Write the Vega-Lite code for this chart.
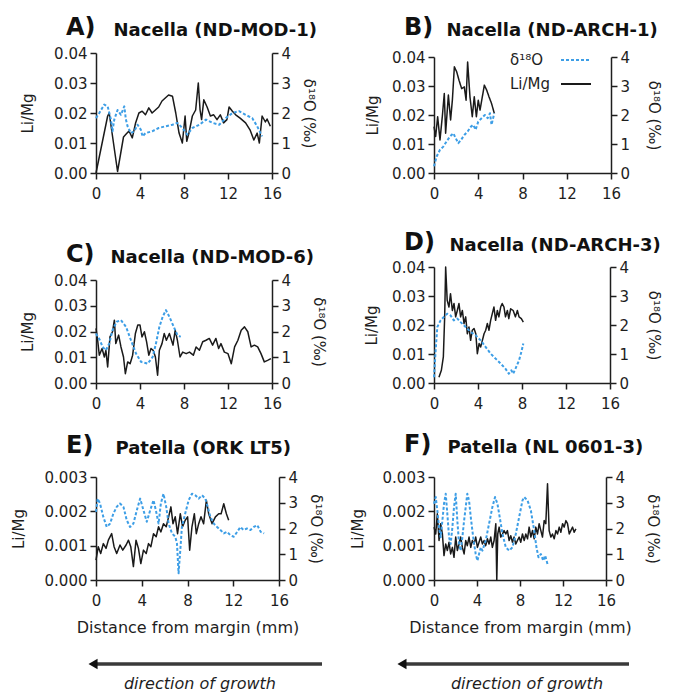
{
 "$schema": "https://vega.github.io/schema/vega-lite/v6.json",
 "padding": {"left": 11, "top": 16, "right": 5, "bottom": 0},
 "background": "white",
 "datasets": {
  "A_li": [{"x":0,"v":0},{"x":1.06,"v":0.019},{"x":1.2,"v":0.02},{"x":1.96,"v":0.0005},{"x":2.5,"v":0.012},{"x":2.7,"v":0.0128},{"x":3.0,"v":0.014},{"x":3.3,"v":0.0117},{"x":3.6,"v":0.0167},{"x":3.9,"v":0.02},{"x":4.2,"v":0.0206},{"x":4.5,"v":0.0194},{"x":4.8,"v":0.0217},{"x":5.1,"v":0.02},{"x":5.4,"v":0.021},{"x":5.7,"v":0.022},{"x":6.0,"v":0.024},{"x":6.3,"v":0.025},{"x":6.6,"v":0.026},{"x":6.95,"v":0.0256},{"x":7.25,"v":0.02},{"x":7.55,"v":0.0133},{"x":7.85,"v":0.01},{"x":8.1,"v":0.019},{"x":8.25,"v":0.0106},{"x":8.45,"v":0.0133},{"x":8.76,"v":0.019},{"x":9.06,"v":0.021},{"x":9.3,"v":0.03},{"x":9.46,"v":0.021},{"x":9.6,"v":0.0178},{"x":9.8,"v":0.0244},{"x":10.1,"v":0.022},{"x":10.4,"v":0.019},{"x":10.7,"v":0.0194},{"x":11.0,"v":0.0178},{"x":11.3,"v":0.0194},{"x":11.6,"v":0.0167},{"x":11.9,"v":0.0178},{"x":12.1,"v":0.022},{"x":12.4,"v":0.0206},{"x":12.7,"v":0.0194},{"x":13.1,"v":0.0183},{"x":13.6,"v":0.0167},{"x":14.0,"v":0.0144},{"x":14.35,"v":0.011},{"x":14.65,"v":0.0133},{"x":14.85,"v":0.01},{"x":15.1,"v":0.019},{"x":15.4,"v":0.017},{"x":15.55,"v":0.018},{"x":15.85,"v":0.0156}],
  "A_d": [{"x":0,"v":1.83},{"x":0.3,"v":2.0},{"x":0.75,"v":2.28},{"x":1.06,"v":2.22},{"x":1.36,"v":1.78},{"x":1.5,"v":1.39},{"x":1.66,"v":1.78},{"x":1.96,"v":2.1},{"x":2.27,"v":1.94},{"x":2.57,"v":2.22},{"x":2.72,"v":1.78},{"x":2.87,"v":1.56},{"x":3.17,"v":1.33},{"x":3.47,"v":1.39},{"x":3.78,"v":1.61},{"x":4.08,"v":1.44},{"x":4.23,"v":1.22},{"x":4.5,"v":1.33},{"x":5.1,"v":1.39},{"x":5.7,"v":1.5},{"x":6.35,"v":1.56},{"x":6.95,"v":1.61},{"x":7.4,"v":1.67},{"x":7.85,"v":1.5},{"x":8.3,"v":1.28},{"x":8.76,"v":1.5},{"x":9.4,"v":1.61},{"x":10.0,"v":1.78},{"x":10.6,"v":1.67},{"x":11.2,"v":1.61},{"x":11.8,"v":1.83},{"x":12.4,"v":2.0},{"x":13.0,"v":2.06},{"x":13.6,"v":1.94},{"x":14.2,"v":1.83},{"x":14.65,"v":1.56},{"x":15.1,"v":1.22}],
  "B_li": [{"x":0,"v":0.016,"s":"Li/Mg"},{"x":0.15,"v":0.0126,"s":"Li/Mg"},{"x":0.33,"v":0.0194,"s":"Li/Mg"},{"x":0.54,"v":0.0114,"s":"Li/Mg"},{"x":0.75,"v":0.0194,"s":"Li/Mg"},{"x":0.93,"v":0.0274,"s":"Li/Mg"},{"x":1.05,"v":0.0137,"s":"Li/Mg"},{"x":1.3,"v":0.0269,"s":"Li/Mg"},{"x":1.5,"v":0.0183,"s":"Li/Mg"},{"x":1.66,"v":0.0251,"s":"Li/Mg"},{"x":1.84,"v":0.0366,"s":"Li/Mg"},{"x":2.05,"v":0.0349,"s":"Li/Mg"},{"x":2.26,"v":0.032,"s":"Li/Mg"},{"x":2.5,"v":0.0291,"s":"Li/Mg"},{"x":2.74,"v":0.0297,"s":"Li/Mg"},{"x":2.9,"v":0.0251,"s":"Li/Mg"},{"x":3.04,"v":0.0383,"s":"Li/Mg"},{"x":3.25,"v":0.0263,"s":"Li/Mg"},{"x":3.46,"v":0.0194,"s":"Li/Mg"},{"x":3.64,"v":0.0263,"s":"Li/Mg"},{"x":3.83,"v":0.0194,"s":"Li/Mg"},{"x":4.0,"v":0.0251,"s":"Li/Mg"},{"x":4.16,"v":0.0217,"s":"Li/Mg"},{"x":4.37,"v":0.0263,"s":"Li/Mg"},{"x":4.55,"v":0.0303,"s":"Li/Mg"},{"x":4.76,"v":0.0286,"s":"Li/Mg"},{"x":4.97,"v":0.0263,"s":"Li/Mg"},{"x":5.2,"v":0.024,"s":"Li/Mg"},{"x":5.45,"v":0.0206,"s":"Li/Mg"}],
  "B_d": [{"x":0,"v":0.23,"s":"δ¹⁸O"},{"x":0.24,"v":0.57,"s":"δ¹⁸O"},{"x":0.54,"v":0.8,"s":"δ¹⁸O"},{"x":0.84,"v":0.91,"s":"δ¹⁸O"},{"x":1.14,"v":1.09,"s":"δ¹⁸O"},{"x":1.45,"v":1.26,"s":"δ¹⁸O"},{"x":1.75,"v":1.37,"s":"δ¹⁸O"},{"x":1.96,"v":1.2,"s":"δ¹⁸O"},{"x":2.2,"v":1.03,"s":"δ¹⁸O"},{"x":2.44,"v":1.14,"s":"δ¹⁸O"},{"x":2.74,"v":1.31,"s":"δ¹⁸O"},{"x":3.04,"v":1.43,"s":"δ¹⁸O"},{"x":3.34,"v":1.6,"s":"δ¹⁸O"},{"x":3.55,"v":1.66,"s":"δ¹⁸O"},{"x":3.76,"v":1.49,"s":"δ¹⁸O"},{"x":4.0,"v":1.77,"s":"δ¹⁸O"},{"x":4.3,"v":1.89,"s":"δ¹⁸O"},{"x":4.6,"v":2.0,"s":"δ¹⁸O"},{"x":4.85,"v":1.89,"s":"δ¹⁸O"},{"x":5.06,"v":2.06,"s":"δ¹⁸O"},{"x":5.2,"v":1.66,"s":"δ¹⁸O"},{"x":5.45,"v":2.06,"s":"δ¹⁸O"}],
  "C_li": [{"x":0,"v":0.0212},{"x":0.15,"v":0.0166},{"x":0.3,"v":0.0108},{"x":0.55,"v":0.0134},{"x":0.76,"v":0.0101},{"x":0.9,"v":0.0127},{"x":1.06,"v":0.0062},{"x":1.27,"v":0.0179},{"x":1.5,"v":0.0199},{"x":1.67,"v":0.0244},{"x":1.8,"v":0.0153},{"x":2.06,"v":0.0186},{"x":2.27,"v":0.014},{"x":2.5,"v":0.0101},{"x":2.67,"v":0.0036},{"x":2.88,"v":0.0082},{"x":3.1,"v":0.0075},{"x":3.33,"v":0.0108},{"x":3.58,"v":0.0192},{"x":3.8,"v":0.0225},{"x":4.0,"v":0.0225},{"x":4.18,"v":0.0179},{"x":4.4,"v":0.0199},{"x":4.6,"v":0.016},{"x":4.8,"v":0.0108},{"x":5.0,"v":0.0134},{"x":5.2,"v":0.0127},{"x":5.4,"v":0.0101},{"x":5.6,"v":0.003},{"x":5.76,"v":0.0127},{"x":6.0,"v":0.0153},{"x":6.2,"v":0.0192},{"x":6.4,"v":0.0166},{"x":6.67,"v":0.0192},{"x":7.0,"v":0.0147},{"x":7.2,"v":0.0205},{"x":7.4,"v":0.0166},{"x":7.64,"v":0.0101},{"x":7.88,"v":0.012},{"x":8.2,"v":0.0114},{"x":8.5,"v":0.012},{"x":8.85,"v":0.0108},{"x":9.1,"v":0.014},{"x":9.4,"v":0.0127},{"x":9.7,"v":0.016},{"x":10.0,"v":0.0166},{"x":10.3,"v":0.0173},{"x":10.6,"v":0.0147},{"x":10.9,"v":0.0173},{"x":11.15,"v":0.0134},{"x":11.36,"v":0.0153},{"x":11.67,"v":0.012},{"x":12.0,"v":0.0114},{"x":12.3,"v":0.0075},{"x":12.6,"v":0.014},{"x":12.9,"v":0.0166},{"x":13.2,"v":0.0205},{"x":13.5,"v":0.0218},{"x":13.8,"v":0.0199},{"x":14.1,"v":0.014},{"x":14.4,"v":0.0147},{"x":14.7,"v":0.014},{"x":15.0,"v":0.0114},{"x":15.3,"v":0.0082},{"x":15.6,"v":0.0088},{"x":15.9,"v":0.0095}],
  "C_d": [{"x":0,"v":1.92},{"x":0.36,"v":1.66},{"x":0.6,"v":1.4},{"x":0.9,"v":1.27},{"x":1.2,"v":1.53},{"x":1.5,"v":2.05},{"x":1.88,"v":2.38},{"x":2.27,"v":2.44},{"x":2.73,"v":2.18},{"x":3.18,"v":1.66},{"x":3.64,"v":1.14},{"x":4.1,"v":0.82},{"x":4.7,"v":0.75},{"x":5.15,"v":1.01},{"x":5.45,"v":1.53},{"x":5.76,"v":2.18},{"x":6.06,"v":2.57},{"x":6.36,"v":2.83},{"x":6.67,"v":2.57},{"x":7.0,"v":2.25},{"x":7.4,"v":1.86},{"x":7.7,"v":1.79}],
  "D_li": [{"x":0.45,"v":0.002},{"x":0.67,"v":0.0044},{"x":0.85,"v":0.009},{"x":0.97,"v":0.0228},{"x":1.06,"v":0.04},{"x":1.2,"v":0.0285},{"x":1.36,"v":0.0262},{"x":1.5,"v":0.0308},{"x":1.67,"v":0.025},{"x":1.82,"v":0.0274},{"x":1.97,"v":0.0228},{"x":2.12,"v":0.025},{"x":2.27,"v":0.0274},{"x":2.42,"v":0.0228},{"x":2.58,"v":0.025},{"x":2.73,"v":0.0205},{"x":2.88,"v":0.0228},{"x":3.03,"v":0.017},{"x":3.18,"v":0.0193},{"x":3.33,"v":0.0147},{"x":3.48,"v":0.0182},{"x":3.64,"v":0.0188},{"x":3.8,"v":0.017},{"x":3.94,"v":0.0101},{"x":4.1,"v":0.0136},{"x":4.24,"v":0.0124},{"x":4.4,"v":0.0147},{"x":4.55,"v":0.017},{"x":4.7,"v":0.0182},{"x":4.85,"v":0.0205},{"x":5.0,"v":0.0182},{"x":5.15,"v":0.0216},{"x":5.3,"v":0.0239},{"x":5.45,"v":0.0262},{"x":5.6,"v":0.0216},{"x":5.76,"v":0.025},{"x":5.9,"v":0.0228},{"x":6.06,"v":0.0262},{"x":6.2,"v":0.0274},{"x":6.36,"v":0.0262},{"x":6.5,"v":0.0228},{"x":6.67,"v":0.025},{"x":6.8,"v":0.0222},{"x":6.97,"v":0.0256},{"x":7.2,"v":0.025},{"x":7.4,"v":0.0228},{"x":7.58,"v":0.025},{"x":7.73,"v":0.0228},{"x":7.94,"v":0.0222},{"x":8.12,"v":0.021}],
  "D_d": [{"x":0,"v":0.2},{"x":0.15,"v":1.13},{"x":0.3,"v":1.93},{"x":0.6,"v":2.16},{"x":0.9,"v":2.28},{"x":1.2,"v":2.39},{"x":1.5,"v":2.33},{"x":1.8,"v":2.16},{"x":2.12,"v":2.22},{"x":2.42,"v":2.1},{"x":2.88,"v":1.93},{"x":3.33,"v":1.76},{"x":3.8,"v":1.64},{"x":4.24,"v":1.47},{"x":4.7,"v":1.24},{"x":5.15,"v":1.01},{"x":5.6,"v":0.84},{"x":6.06,"v":0.67},{"x":6.5,"v":0.49},{"x":6.8,"v":0.32},{"x":7.03,"v":0.44},{"x":7.2,"v":0.32},{"x":7.4,"v":0.49},{"x":7.73,"v":0.78},{"x":7.94,"v":1.07},{"x":8.12,"v":1.36}],
  "E_li": [{"x":0,"v":0.00058},{"x":0.2,"v":0.00097},{"x":0.41,"v":0.00077},{"x":0.64,"v":0.00106},{"x":0.88,"v":0.00092},{"x":1.08,"v":0.00116},{"x":1.37,"v":0.00135},{"x":1.58,"v":0.00097},{"x":1.81,"v":0.00077},{"x":2.1,"v":0.00102},{"x":2.34,"v":0.00087},{"x":2.63,"v":0.00102},{"x":2.84,"v":0.00116},{"x":3.04,"v":0.00097},{"x":3.27,"v":0.00039},{"x":3.5,"v":0.00116},{"x":3.71,"v":0.00092},{"x":3.92,"v":0.00048},{"x":4.15,"v":0.00087},{"x":4.39,"v":0.00077},{"x":4.59,"v":0.00106},{"x":4.8,"v":0.00097},{"x":5.03,"v":0.00135},{"x":5.26,"v":0.00126},{"x":5.47,"v":0.00155},{"x":5.67,"v":0.0014},{"x":5.9,"v":0.00164},{"x":6.14,"v":0.00155},{"x":6.35,"v":0.00184},{"x":6.55,"v":0.00213},{"x":6.73,"v":0.00164},{"x":6.93,"v":0.00184},{"x":7.13,"v":0.00135},{"x":7.37,"v":0.00193},{"x":7.57,"v":0.00155},{"x":7.8,"v":0.00174},{"x":8.01,"v":0.00184},{"x":8.19,"v":0.00087},{"x":8.39,"v":0.00155},{"x":8.6,"v":0.00193},{"x":8.77,"v":0.00135},{"x":8.98,"v":0.00164},{"x":9.18,"v":0.00184},{"x":9.41,"v":0.00164},{"x":9.65,"v":0.00232},{"x":9.85,"v":0.00193},{"x":10.15,"v":0.00164},{"x":10.44,"v":0.00184},{"x":10.73,"v":0.00193},{"x":10.94,"v":0.00193},{"x":11.17,"v":0.00222},{"x":11.4,"v":0.00193},{"x":11.6,"v":0.00174}],
  "E_d": [{"x":0,"v":2.65},{"x":0.15,"v":3.16},{"x":0.35,"v":2.97},{"x":0.64,"v":2.45},{"x":0.94,"v":2.06},{"x":1.23,"v":2.19},{"x":1.52,"v":2.58},{"x":1.81,"v":2.84},{"x":2.1,"v":2.97},{"x":2.4,"v":2.84},{"x":2.69,"v":2.32},{"x":2.98,"v":2.06},{"x":3.27,"v":2.19},{"x":3.57,"v":2.71},{"x":3.86,"v":3.16},{"x":4.15,"v":2.71},{"x":4.44,"v":2.26},{"x":4.74,"v":2.71},{"x":5.03,"v":3.1},{"x":5.26,"v":2.65},{"x":5.47,"v":2.19},{"x":5.67,"v":2.97},{"x":5.9,"v":3.35},{"x":6.14,"v":2.84},{"x":6.35,"v":2.19},{"x":6.64,"v":1.81},{"x":6.93,"v":1.68},{"x":7.08,"v":1.42},{"x":7.22,"v":0.26},{"x":7.37,"v":1.16},{"x":7.51,"v":2.06},{"x":7.8,"v":2.58},{"x":8.1,"v":3.1},{"x":8.39,"v":3.35},{"x":8.68,"v":3.29},{"x":8.98,"v":3.16},{"x":9.27,"v":3.29},{"x":9.56,"v":3.16},{"x":9.77,"v":2.84},{"x":10.0,"v":2.45},{"x":10.3,"v":2.19},{"x":10.59,"v":2.06},{"x":10.88,"v":1.94},{"x":11.17,"v":1.81},{"x":11.46,"v":1.87},{"x":11.75,"v":1.74},{"x":12.05,"v":1.68},{"x":12.34,"v":1.87},{"x":12.63,"v":2.06},{"x":12.9,"v":1.94},{"x":13.2,"v":2.0},{"x":13.5,"v":1.94},{"x":13.8,"v":2.06},{"x":14.1,"v":2.13},{"x":14.4,"v":1.87},{"x":14.7,"v":1.81}],
  "F_li": [{"x":0,"v":0.00154},{"x":0.16,"v":0.00134},{"x":0.31,"v":0.00193},{"x":0.47,"v":0.00115},{"x":0.62,"v":0.00164},{"x":0.78,"v":0.00134},{"x":0.93,"v":0.00071},{"x":1.09,"v":0.00105},{"x":1.24,"v":0.00086},{"x":1.4,"v":0.0011},{"x":1.55,"v":0.00076},{"x":1.71,"v":0.00095},{"x":1.86,"v":0.00066},{"x":2.02,"v":0.00125},{"x":2.17,"v":0.00086},{"x":2.33,"v":0.00105},{"x":2.48,"v":0.00125},{"x":2.64,"v":0.00095},{"x":2.8,"v":0.00076},{"x":2.95,"v":0.00115},{"x":3.1,"v":0.001},{"x":3.26,"v":0.00125},{"x":3.42,"v":0.00095},{"x":3.57,"v":0.00115},{"x":3.73,"v":0.00105},{"x":3.88,"v":0.00125},{"x":4.04,"v":0.00095},{"x":4.19,"v":0.0011},{"x":4.35,"v":0.00125},{"x":4.5,"v":0.00105},{"x":4.66,"v":0.00115},{"x":4.81,"v":0.001},{"x":4.97,"v":0.0012},{"x":5.12,"v":0.00105},{"x":5.28,"v":0.00125},{"x":5.43,"v":0.00095},{"x":5.59,"v":0.00115},{"x":5.75,"v":0.00164},{"x":5.84,"v":0.0},{"x":5.93,"v":0.00134},{"x":6.06,"v":0.00154},{"x":6.21,"v":0.00125},{"x":6.37,"v":0.00134},{"x":6.52,"v":0.00144},{"x":6.68,"v":0.00134},{"x":6.83,"v":0.00144},{"x":6.99,"v":0.00115},{"x":7.14,"v":0.00129},{"x":7.3,"v":0.0011},{"x":7.45,"v":0.00125},{"x":7.61,"v":0.00105},{"x":7.76,"v":0.00115},{"x":7.92,"v":0.00125},{"x":8.07,"v":0.0011},{"x":8.23,"v":0.00134},{"x":8.39,"v":0.00115},{"x":8.54,"v":0.00134},{"x":8.7,"v":0.0012},{"x":8.85,"v":0.00154},{"x":9.01,"v":0.00125},{"x":9.16,"v":0.00144},{"x":9.32,"v":0.0012},{"x":9.47,"v":0.00154},{"x":9.63,"v":0.00134},{"x":9.78,"v":0.00164},{"x":9.94,"v":0.00144},{"x":10.09,"v":0.00125},{"x":10.25,"v":0.00173},{"x":10.4,"v":0.00164},{"x":10.56,"v":0.0028},{"x":10.71,"v":0.00144},{"x":10.87,"v":0.00125},{"x":11.02,"v":0.00134},{"x":11.18,"v":0.0012},{"x":11.34,"v":0.00144},{"x":11.49,"v":0.00134},{"x":11.65,"v":0.00154},{"x":11.8,"v":0.00139},{"x":11.96,"v":0.00164},{"x":12.11,"v":0.00154},{"x":12.27,"v":0.00173},{"x":12.42,"v":0.00164},{"x":12.58,"v":0.00134},{"x":12.73,"v":0.00144},{"x":12.89,"v":0.00154},{"x":13.04,"v":0.00139},{"x":13.2,"v":0.00149}],
  "F_d": [{"x":0,"v":2.96},{"x":0.16,"v":3.22},{"x":0.31,"v":2.7},{"x":0.47,"v":2.05},{"x":0.62,"v":1.66},{"x":0.78,"v":2.31},{"x":0.93,"v":2.96},{"x":1.09,"v":3.35},{"x":1.24,"v":2.57},{"x":1.4,"v":1.66},{"x":1.55,"v":1.4},{"x":1.71,"v":2.05},{"x":1.86,"v":2.83},{"x":2.02,"v":3.35},{"x":2.17,"v":2.31},{"x":2.33,"v":1.4},{"x":2.48,"v":1.14},{"x":2.64,"v":1.66},{"x":2.8,"v":2.31},{"x":2.95,"v":2.83},{"x":3.1,"v":3.35},{"x":3.26,"v":3.09},{"x":3.42,"v":2.44},{"x":3.57,"v":1.92},{"x":3.73,"v":1.4},{"x":3.88,"v":1.01},{"x":4.04,"v":0.75},{"x":4.19,"v":1.01},{"x":4.35,"v":1.27},{"x":4.5,"v":1.14},{"x":4.81,"v":1.53},{"x":5.12,"v":2.18},{"x":5.43,"v":2.83},{"x":5.68,"v":3.22},{"x":5.9,"v":2.96},{"x":6.06,"v":2.57},{"x":6.37,"v":1.79},{"x":6.68,"v":1.27},{"x":6.99,"v":1.14},{"x":7.3,"v":1.27},{"x":7.61,"v":1.79},{"x":7.92,"v":2.44},{"x":8.23,"v":3.09},{"x":8.39,"v":3.22},{"x":8.7,"v":3.09},{"x":9.01,"v":2.7},{"x":9.32,"v":1.92},{"x":9.53,"v":1.27},{"x":9.72,"v":0.88},{"x":9.94,"v":1.01},{"x":10.16,"v":0.75},{"x":10.34,"v":0.95},{"x":10.56,"v":0.62}],
  "E_arrow": [{"x":-0.26,"x2":19.76,"y":-0.815}],
  "E_text": [{"x":9.09,"y":-1.01,"label":"direction of growth"}],
  "F_arrow": [{"x":-2.98,"x2":18.14,"y":-0.815}],
  "F_text": [{"x":8.65,"y":-1.01,"label":"direction of growth"}]
 },
 "concat": [
  {
   "width": 176, "height": 120,
   "title": {"text": "A)", "offset": -19},
   "layer": [
    {"data": {"name": "A_li"}, "mark": {"type": "line", "color": "#1a1a1a", "strokeWidth": 1.5},
     "encoding": {
      "x": {"field": "x", "type": "quantitative", "scale": {"domain": [0, 16], "nice": false, "zero": false}, "axis": {"values": [0, 4, 8, 12, 16], "title": null}},
      "y": {"field": "v", "type": "quantitative", "scale": {"domain": [0, 0.04], "nice": false}, "axis": {"values": [0, 0.01, 0.02, 0.03, 0.04], "format": ".2f", "title": "Li/Mg", "titlePadding": 18}}}},
    {"data": {"name": "A_d"}, "mark": {"type": "line", "color": "#3d9ee6", "strokeWidth": 2, "strokeDash": [3, 2]},
     "encoding": {
      "x": {"field": "x", "type": "quantitative", "axis": {"orient": "top", "domain": false, "ticks": false, "labels": false, "title": "Nacella (ND-MOD-1)", "titleX": 17, "titleY": -18}},
      "y": {"field": "v", "type": "quantitative", "scale": {"domain": [0, 4], "nice": false}, "axis": {"orient": "right", "values": [0, 1, 2, 3, 4], "title": "δ¹⁸O (‰)", "titlePadding": 10}}}}
   ],
   "resolve": {"scale": {"y": "independent"}, "axis": {"x": "independent"}}
  },
  {
   "width": 177, "height": 120,
   "title": {"text": "B)", "offset": -19},
   "layer": [
    {"data": {"name": "B_li"}, "mark": {"type": "line", "strokeWidth": 1.5},
     "encoding": {
      "x": {"field": "x", "type": "quantitative", "scale": {"domain": [0, 16], "nice": false, "zero": false}, "axis": {"values": [0, 4, 8, 12, 16], "title": null}},
      "y": {"field": "v", "type": "quantitative", "scale": {"domain": [0, 0.04], "nice": false, "range": [120, 4]}, "axis": {"values": [0, 0.01, 0.02, 0.03, 0.04], "format": ".2f", "title": "Li/Mg", "titlePadding": 11}},
      "color": {"field": "s", "type": "nominal", "scale": {"domain": ["δ¹⁸O", "Li/Mg"], "range": ["#3d9ee6", "#1a1a1a"]},
                "legend": {"title": null, "orient": "none", "legendX": 126, "legendY": -9, "padding": 0, "symbolType": "stroke", "symbolSize": 900, "symbolStrokeWidth": 2, "symbolOffset": 0, "labelAlign": "left", "labelOffset": -82, "labelFont": "DejaVu Sans", "labelFontSize": 15, "labelColor": "#1e1e1e", "rowPadding": -7}},
      "strokeDash": {"field": "s", "type": "nominal", "scale": {"domain": ["δ¹⁸O", "Li/Mg"], "range": [[3, 2], [1, 0]]},
                "legend": {"title": null, "orient": "none", "legendX": 126, "legendY": -9, "padding": 0, "symbolType": "stroke", "symbolSize": 900, "symbolStrokeWidth": 2, "symbolOffset": 0, "labelAlign": "left", "labelOffset": -82, "labelFont": "DejaVu Sans", "labelFontSize": 15, "labelColor": "#1e1e1e", "rowPadding": -7}}}},
    {"data": {"name": "B_d"}, "mark": {"type": "line", "strokeWidth": 2},
     "encoding": {
      "x": {"field": "x", "type": "quantitative", "axis": {"orient": "top", "domain": false, "ticks": false, "labels": false, "title": "Nacella (ND-ARCH-1)", "titleX": 12, "titleY": -18}},
      "y": {"field": "v", "type": "quantitative", "scale": {"domain": [0, 4], "nice": false, "range": [120, 4]}, "axis": {"orient": "right", "values": [0, 1, 2, 3, 4], "title": "δ¹⁸O (‰)", "titlePadding": 16}},
      "color": {"field": "s", "type": "nominal"},
      "strokeDash": {"field": "s", "type": "nominal"}}}
   ],
   "resolve": {"scale": {"y": "independent"}, "axis": {"x": "independent"}}
  },
  {
   "width": 176, "height": 116,
   "title": {"text": "C)", "offset": -19},
   "layer": [
    {"data": {"name": "C_li"}, "mark": {"type": "line", "color": "#1a1a1a", "strokeWidth": 1.5},
     "encoding": {
      "x": {"field": "x", "type": "quantitative", "scale": {"domain": [0, 16], "nice": false, "zero": false}, "axis": {"values": [0, 4, 8, 12, 16], "title": null}},
      "y": {"field": "v", "type": "quantitative", "scale": {"domain": [0, 0.04], "nice": false, "range": [116, 13]}, "axis": {"values": [0, 0.01, 0.02, 0.03, 0.04], "format": ".2f", "title": "Li/Mg", "titlePadding": 18}}}},
    {"data": {"name": "C_d"}, "mark": {"type": "line", "color": "#3d9ee6", "strokeWidth": 2, "strokeDash": [3, 2]},
     "encoding": {
      "x": {"field": "x", "type": "quantitative", "axis": {"orient": "top", "domain": false, "ticks": false, "labels": false, "title": "Nacella (ND-MOD-6)", "titleX": 14, "titleY": -5}},
      "y": {"field": "v", "type": "quantitative", "scale": {"domain": [0, 4], "nice": false, "range": [116, 13]}, "axis": {"orient": "right", "values": [0, 1, 2, 3, 4], "title": "δ¹⁸O (‰)", "titlePadding": 20}}}}
   ],
   "resolve": {"scale": {"y": "independent"}, "axis": {"x": "independent"}}
  },
  {
   "width": 176, "height": 116,
   "title": {"text": "D)", "offset": -19},
   "layer": [
    {"data": {"name": "D_li"}, "mark": {"type": "line", "color": "#1a1a1a", "strokeWidth": 1.5},
     "encoding": {
      "x": {"field": "x", "type": "quantitative", "scale": {"domain": [0, 16], "nice": false, "zero": false}, "axis": {"values": [0, 4, 8, 12, 16], "title": null}},
      "y": {"field": "v", "type": "quantitative", "scale": {"domain": [0, 0.04], "nice": false}, "axis": {"values": [0, 0.01, 0.02, 0.03, 0.04], "format": ".2f", "title": "Li/Mg", "titlePadding": 12}}}},
    {"data": {"name": "D_d"}, "mark": {"type": "line", "color": "#3d9ee6", "strokeWidth": 2, "strokeDash": [3, 2]},
     "encoding": {
      "x": {"field": "x", "type": "quantitative", "axis": {"orient": "top", "domain": false, "ticks": false, "labels": false, "title": "Nacella (ND-ARCH-3)", "titleX": 15, "titleY": -17}},
      "y": {"field": "v", "type": "quantitative", "scale": {"domain": [0, 4], "nice": false}, "axis": {"orient": "right", "values": [0, 1, 2, 3, 4], "title": "δ¹⁸O (‰)", "titlePadding": 17}}}}
   ],
   "resolve": {"scale": {"y": "independent"}, "axis": {"x": "independent"}}
  },
  {
   "width": 183, "height": 103,
   "title": {"text": "E)", "offset": -19},
   "layer": [
    {"data": {"name": "E_li"}, "mark": {"type": "line", "color": "#1a1a1a", "strokeWidth": 1.5},
     "encoding": {
      "x": {"field": "x", "type": "quantitative", "scale": {"domain": [0, 16], "nice": false, "zero": false}, "axis": {"values": [0, 4, 8, 12, 16], "title": "Distance from margin (mm)"}},
      "y": {"field": "v", "type": "quantitative", "scale": {"domain": [0, 0.003], "nice": false}, "axis": {"values": [0, 0.001, 0.002, 0.003], "format": ".3f", "title": "Li/Mg", "titlePadding": 18}}}},
    {"data": {"name": "E_d"}, "mark": {"type": "line", "color": "#3d9ee6", "strokeWidth": 2, "strokeDash": [3, 2]},
     "encoding": {
      "x": {"field": "x", "type": "quantitative", "axis": {"orient": "top", "domain": false, "ticks": false, "labels": false, "title": "Patella (ORK LT5)", "titleX": 19, "titleY": -24}},
      "y": {"field": "v", "type": "quantitative", "scale": {"domain": [0, 4], "nice": false}, "axis": {"orient": "right", "values": [0, 1, 2, 3, 4], "title": "δ¹⁸O (‰)", "titlePadding": 10}}}},
    {"layer": [
      {"data": {"name": "E_arrow"}, "mark": {"type": "rule", "color": "#3a3a3a", "strokeWidth": 3.5},
       "encoding": {"x": {"field": "x", "type": "quantitative", "axis": null}, "x2": {"field": "x2"}, "y": {"field": "y", "type": "quantitative", "scale": {"domain": [0, 1], "nice": false, "zero": false}, "axis": null}}},
      {"data": {"name": "E_arrow"}, "mark": {"type": "point", "shape": "triangle-left", "filled": true, "color": "#111", "size": 110, "opacity": 1},
       "encoding": {"x": {"field": "x", "type": "quantitative", "axis": null}, "y": {"field": "y", "type": "quantitative", "axis": null}}},
      {"data": {"name": "E_text"}, "mark": {"type": "text", "font": "DejaVu Sans", "fontSize": 16, "fontStyle": "italic", "color": "#1e1e1e", "baseline": "middle"},
       "encoding": {"x": {"field": "x", "type": "quantitative", "axis": null}, "y": {"field": "y", "type": "quantitative", "axis": null}, "text": {"field": "label"}}}
    ]}
   ],
   "resolve": {"scale": {"y": "independent"}, "axis": {"x": "independent"}}
  },
  {
   "width": 172, "height": 103,
   "title": {"text": "F)", "offset": -19},
   "layer": [
    {"data": {"name": "F_li"}, "mark": {"type": "line", "color": "#1a1a1a", "strokeWidth": 1.5},
     "encoding": {
      "x": {"field": "x", "type": "quantitative", "scale": {"domain": [0, 16], "nice": false, "zero": false}, "axis": {"values": [0, 4, 8, 12, 16], "title": "Distance from margin (mm)"}},
      "y": {"field": "v", "type": "quantitative", "scale": {"domain": [0, 0.003], "nice": false}, "axis": {"values": [0, 0.001, 0.002, 0.003], "format": ".3f", "title": "Li/Mg", "titlePadding": 17}}}},
    {"data": {"name": "F_d"}, "mark": {"type": "line", "color": "#3d9ee6", "strokeWidth": 2, "strokeDash": [3, 2]},
     "encoding": {
      "x": {"field": "x", "type": "quantitative", "axis": {"orient": "top", "domain": false, "ticks": false, "labels": false, "title": "Patella (NL 0601-3)", "titleX": 13, "titleY": -25}},
      "y": {"field": "v", "type": "quantitative", "scale": {"domain": [0, 4], "nice": false}, "axis": {"orient": "right", "values": [0, 1, 2, 3, 4], "title": "δ¹⁸O (‰)", "titlePadding": 20}}}},
    {"layer": [
      {"data": {"name": "F_arrow"}, "mark": {"type": "rule", "color": "#3a3a3a", "strokeWidth": 3.5},
       "encoding": {"x": {"field": "x", "type": "quantitative", "axis": null}, "x2": {"field": "x2"}, "y": {"field": "y", "type": "quantitative", "scale": {"domain": [0, 1], "nice": false, "zero": false}, "axis": null}}},
      {"data": {"name": "F_arrow"}, "mark": {"type": "point", "shape": "triangle-left", "filled": true, "color": "#111", "size": 110, "opacity": 1},
       "encoding": {"x": {"field": "x", "type": "quantitative", "axis": null}, "y": {"field": "y", "type": "quantitative", "axis": null}}},
      {"data": {"name": "F_text"}, "mark": {"type": "text", "font": "DejaVu Sans", "fontSize": 16, "fontStyle": "italic", "color": "#1e1e1e", "baseline": "middle"},
       "encoding": {"x": {"field": "x", "type": "quantitative", "axis": null}, "y": {"field": "y", "type": "quantitative", "axis": null}, "text": {"field": "label"}}}
    ]}
   ],
   "resolve": {"scale": {"y": "independent"}, "axis": {"x": "independent"}}
  }
 ],
 "columns": 2,
 "bounds": "flush",
 "spacing": {"row": 94, "column": 155},
 "resolve": {"scale": {"color": "independent", "strokeDash": "independent"}, "legend": {"color": "independent", "strokeDash": "independent"}},
 "config": {
  "font": "DejaVu Sans",
  "view": {"stroke": null},
  "axis": {"grid": false, "labelFont": "DejaVu Sans", "labelFontSize": 15, "labelColor": "#1e1e1e", "titleFont": "DejaVu Sans", "titleFontSize": 15, "titleFontWeight": "normal", "titleColor": "#1e1e1e", "domainColor": "#1e1e1e", "domainWidth": 1.5, "tickColor": "#1e1e1e", "tickWidth": 1.5, "tickSize": 6, "labelPadding": 3, "labelFlush": false, "labelOverlap": false},
  "axisX": {"labelPadding": 7, "titlePadding": 11, "titleFontSize": 16},
  "axisTop": {"titleFontSize": 18, "titleFontWeight": "bold", "titleColor": "#111", "titleAlign": "left", "titleAnchor": "start", "titleBaseline": "alphabetic", "titleAngle": 0},
  "title": {"font": "DejaVu Sans", "fontSize": 24, "fontWeight": "bold", "color": "#111", "anchor": "start", "frame": "group", "dx": -30},
  "line": {"strokeJoin": "round"}
 }
}
